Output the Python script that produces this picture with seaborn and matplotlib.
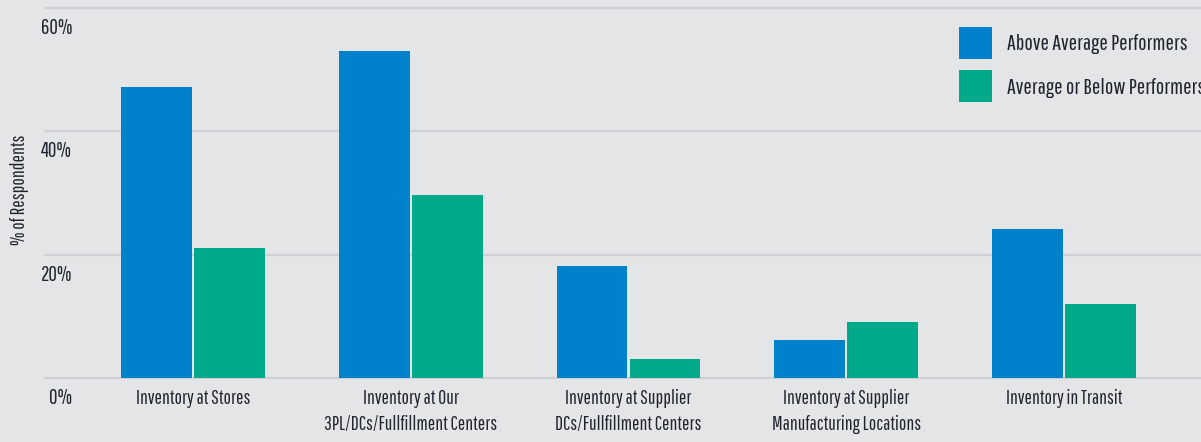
import matplotlib
matplotlib.use('Agg')
import matplotlib.pyplot as plt
import matplotlib.transforms as mtransforms
import seaborn as sns
import pandas as pd

# data
categories = [
    'Inventory at Stores',
    'Inventory at Our\n3PL/DCs/Fullfillment Centers',
    'Inventory at Supplier\nDCs/Fullfillment Centers',
    'Inventory at Supplier\nManufacturing Locations',
    'Inventory in Transit',
]
above_avg = [47.2, 53.0, 18.2, 6.2, 24.2]
avg_below = [21.1, 29.7, 3.1, 9.1, 12.0]
series_names = ['Above Average Performers', 'Average or Below Performers']
y_ticks = [0, 20, 40, 60]
y_tick_labels = ['0%', '20%', '40%', '60%']

blue = '#0081cc'
green = '#00a98a'
bg = '#e4e5e6'
text_col = '#1f2630'

sns.set_theme(style='white')
plt.rcParams['font.family'] = ['Pathway Gothic One', 'DejaVu Sans']

df = pd.DataFrame({
    'Kategori': categories * 2,
    'Persen': above_avg + avg_below,
    'Grup': [series_names[0]] * len(categories) + [series_names[1]] * len(categories),
})

W, H = 1201, 442
fig = plt.figure(figsize=(W / 100, H / 100), dpi=100)
fig.patch.set_facecolor(bg)
ax = fig.add_axes([45 / W, (H - 378) / H, (W - 45) / W, (378 - 8) / H])
ax.set_facecolor(bg)

sns.barplot(data=df, x='Kategori', y='Persen', hue='Grup', order=categories,
            hue_order=series_names, palette=[blue, green], width=0.67, gap=0.03,
            saturation=1, linewidth=0, edgecolor='none', ax=ax)

ax.set_xlim(-0.68, 4.63)
ax.set_ylim(0, 60)
for s in ax.spines.values():
    s.set_visible(False)

# grid lines
ax.set_yticks(y_ticks)
ax.set_yticklabels([])
ax.yaxis.grid(True, color='#cfd0d3', linewidth=1.6)
ax.set_axisbelow(True)
ax.tick_params(axis='y', length=0)
for gl in ax.get_ygridlines():
    gl.set_clip_on(False)

# y labels sit just below each grid line
offset = mtransforms.ScaledTranslation(27 / 100, -10 / 100, fig.dpi_scale_trans)
trans = mtransforms.blended_transform_factory(ax.transAxes, ax.transData) + offset
for v, lab in zip(y_ticks, y_tick_labels):
    ax.text(0, v, lab, transform=trans, ha='right', va='top',
            fontsize=15, color=text_col, clip_on=False)

ax.tick_params(axis='x', length=0, pad=8, labelsize=14, colors=text_col)
for t in ax.get_xticklabels():
    t.set_linespacing(1.45)
ax.set_xlabel('')
ax.set_ylabel('')
fig.text(20 / W, 1 - 190 / H, '% of Respondents', rotation=90, ha='center', va='center',
         fontsize=14, color=text_col)

# legend (runs off the right edge like the reference)
handles, labels = ax.get_legend_handles_labels()
ax.legend(handles, labels, loc='upper left', bbox_to_anchor=(959 / W, 1 - 27 / H),
          bbox_transform=fig.transFigure, frameon=False, fontsize=16,
          handlelength=1.5, handleheight=1.85, handletextpad=0.65, labelspacing=0.5,
          borderpad=0, borderaxespad=0, labelcolor=text_col)

fig.savefig('out.png', dpi=100, facecolor=bg)
